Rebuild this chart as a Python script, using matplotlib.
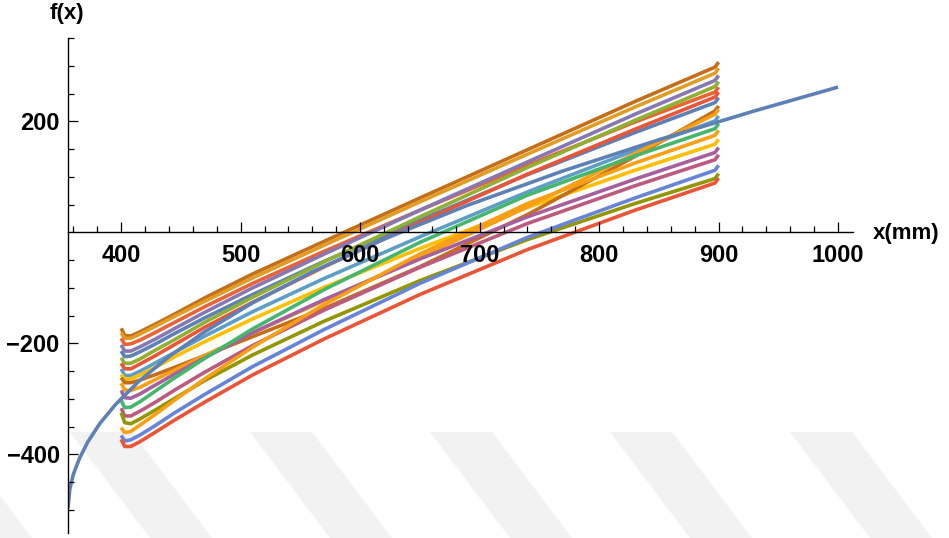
#%% Librerías
import matplotlib
matplotlib.use('Agg')
import matplotlib.pyplot as plt
from matplotlib.patches import Polygon

#%% Datos
# Puntos de muestreo en x (mm) para la familia de curvas
x_familia = [400, 403, 408, 416, 428, 445, 470, 510, 570, 650, 740, 830, 897, 900]

# Valores f(x) de cada curva de la familia (uno por fila)
y_familia = [
    [-173, -186, -187, -179, -166, -147, -118, -75, -16, 62, 149, 236, 298, 307],
    [-181, -191, -191, -183, -170, -151, -124, -82, -23, 55, 141, 226, 287, 296],
    [-191, -202, -201, -194, -181, -162, -134, -92, -34, 40, 121, 199, 253, 262],
    [-203, -214, -214, -206, -193, -173, -144, -100, -39, 40, 127, 213, 274, 283],
    [-214, -224, -223, -215, -202, -182, -154, -112, -52, 22, 104, 180, 234, 243],
    [-226, -236, -236, -228, -213, -193, -162, -117, -53, 28, 117, 202, 263, 272],
    [-236, -246, -246, -237, -223, -202, -171, -126, -62, 18, 105, 186, 244, 253],
    [-246, -258, -258, -250, -236, -216, -187, -143, -83, -8, 73, 148, 201, 210],
    [-256, -265, -264, -257, -244, -224, -197, -156, -99, -29, 45, 112, 159, 168],
    [-262, -271, -271, -266, -257, -243, -222, -188, -137, -62, 32, 137, 219, 228],
    [-272, -284, -285, -279, -266, -248, -222, -181, -123, -45, 46, 142, 213, 222],
    [-285, -298, -299, -291, -276, -255, -226, -181, -121, -48, 28, 96, 144, 153],
    [-303, -316, -315, -305, -287, -262, -227, -174, -103, -18, 67, 138, 187, 196],
    [-317, -331, -331, -322, -307, -284, -252, -204, -140, -63, 16, 84, 131, 140],
    [-325, -343, -345, -336, -321, -299, -267, -221, -160, -87, -13, 52, 97, 106],
    [-352, -361, -359, -347, -329, -302, -264, -207, -130, -39, 52, 125, 175, 184],
    [-366, -376, -374, -365, -349, -325, -292, -242, -175, -92, -9, 62, 112, 121],
    [-373, -386, -386, -377, -361, -338, -306, -257, -192, -112, -31, 40, 89, 98],
]

colores_familia = [
    '#C56E1A', '#E19C24', '#EB6235', '#8778B3', '#5E81B5', '#8FB032',
    '#E95536', '#5D9EC7', '#FFBF00', '#C56E1A', '#F89F13', '#A5609D',
    '#47B66D', '#BC5B80', '#929600', '#F89F13', '#6685D9', '#E95536',
]

# Curva larga (azul) de 355 a 1000 mm
x_azul = [355.5, 357, 360, 365, 372, 382, 395, 415, 440, 470, 510, 560,
          620, 690, 770, 850, 930, 1000]
y_azul = [-497, -463, -436, -408, -378, -345, -311, -268, -224, -179, -127,
          -71, -12, 49, 111, 167, 219, 262]

# Ticks de los ejes
x_ticks = [400, 500, 600, 700, 800, 900, 1000]
x_ticks_menores = [v for v in range(360, 1001, 20) if v % 100 != 0]
y_ticks = [-400, -200, 200]
y_ticks_menores = [v for v in range(-500, 351, 50) if v % 200 != 0]

#%% Figura
plt.rcParams['font.family'] = ['Liberation Sans', 'DejaVu Sans']
plt.rcParams['font.weight'] = 'bold'

W, H = 949, 538
fig = plt.figure(figsize=(W / 100, H / 100), dpi=100)
fig.patch.set_facecolor('white')

# Marca de agua gris en franjas diagonales (por debajo de todo)
for x0 in [-110, 70, 250, 430, 610, 790]:
    pts = [(x0, 432), (x0 + 62, 432), (x0 + 142, 538), (x0 + 80, 538)]
    pts = [(px / W, 1 - py / H) for px, py in pts]
    fig.patches.append(Polygon(pts, closed=True, transform=fig.transFigure,
                               facecolor='#F2F2F2', edgecolor='none', zorder=-1))

ax = fig.add_axes([68 / W, 5 / H, 785 / W, 495 / H])
ax.patch.set_visible(False)
ax.set_axisbelow(False)
ax.set_xlim(355.5, 1012.5)
ax.set_ylim(-542, 350.5)

# Familia de curvas
for ys, c in zip(y_familia, colores_familia):
    ax.plot(x_familia, ys, color=c, linewidth=2.6,
            solid_joinstyle='round', solid_capstyle='butt')

# Curva azul encima
ax.plot(x_azul, y_azul, color='#5E81B5', linewidth=2.6,
        solid_joinstyle='round', solid_capstyle='butt')

#%% Ejes estilo cruzado
ax.spines['top'].set_visible(False)
ax.spines['right'].set_visible(False)
ax.spines['bottom'].set_position(('data', 0))
for s in ['left', 'bottom']:
    ax.spines[s].set_linewidth(1.0)

ax.set_xticks(x_ticks)
ax.set_xticks(x_ticks_menores, minor=True)
ax.set_yticks(y_ticks)
ax.set_yticks(y_ticks_menores, minor=True)
ax.set_xticklabels([str(v) for v in x_ticks])
ax.set_yticklabels(['\u2212400', '\u2212200', '200'])

ax.tick_params(axis='both', which='major', direction='in', length=7, width=0.9,
               labelsize=17)
ax.tick_params(axis='both', which='minor', direction='in', length=4, width=0.9)
ax.tick_params(axis='x', which='major', pad=8)
ax.tick_params(axis='y', which='major', pad=6)
for lab in ax.get_xticklabels() + ax.get_yticklabels():
    lab.set_fontweight('bold')

# Nombres de los ejes
fig.text(873 / W, 1 - 234 / H, 'x(mm)', ha='left', va='center',
         fontsize=16, fontweight='bold')
fig.text(67 / W, 1 - 14 / H, 'f(x)', ha='center', va='center',
         fontsize=16, fontweight='bold')

fig.savefig('out.png', dpi=100)
